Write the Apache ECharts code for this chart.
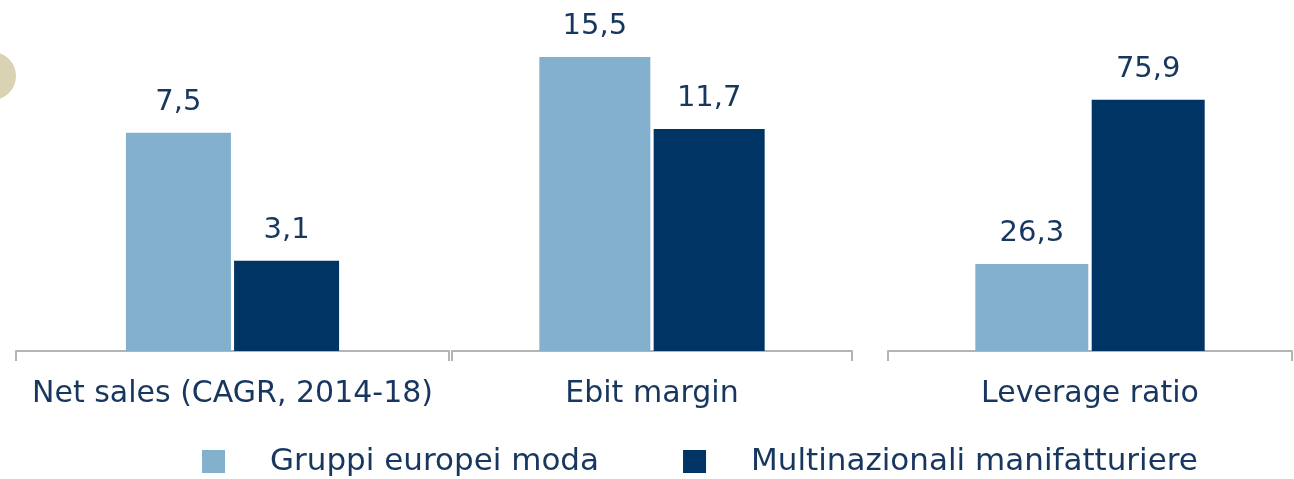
<!DOCTYPE html>
<html>
<head>
<meta charset="utf-8">
<script src="https://cdn.jsdelivr.net/npm/echarts@6/dist/echarts.min.js"></script>
<style>
html, body { margin: 0; padding: 0; background: #fff; }
#chart { width: 1294px; height: 479px; }
</style>
</head>
<body>
<div id="chart"></div>
<script>
var categories = ["Net sales (CAGR, 2014-18)", "Ebit margin", "Leverage ratio"];
var seriesNames = ["Gruppi europei moda", "Multinazionali manifatturiere"];
var europeiModa = [7.5, 15.5, 26.3];
var multinazionali = [3.1, 11.7, 75.9];

var lightColor = "#82b0cd";
var darkColor = "#003464";
var textColor = "#17375e";
var fontName = "'DejaVu Sans', sans-serif";

// one small chart per category, each with its own scale
var grids = [
	{ left: 16, width: 433, top: 0, bottom: 128 },
	{ left: 452, width: 400, top: 0, bottom: 128 },
	{ left: 888, width: 404, top: 0, bottom: 128 }
];
var yMax = [12.06, 18.5, 106];
var barWidths = [105, 111, 113];

function fmt(p) {
	return String(p.value).replace(".", ",");
}

var xAxes = [], yAxes = [], series = [];
for (var i = 0; i < categories.length; i++) {
	xAxes.push({
		type: "category",
		gridIndex: i,
		data: [categories[i]],
		boundaryGap: true,
		axisLine: { show: true, lineStyle: { color: "#b4b4b4", width: 2 } },
		axisTick: { show: true, interval: 0, alignWithLabel: false, length: 10,
			lineStyle: { color: "#b4b4b4", width: 2 } },
		axisLabel: { color: textColor, fontSize: 30, fontFamily: fontName, margin: 28 }
	});
	yAxes.push({
		type: "value",
		gridIndex: i,
		min: 0,
		max: yMax[i],
		show: false,
		splitLine: { show: false }
	});
	series.push({
		name: seriesNames[0],
		type: "bar",
		xAxisIndex: i,
		yAxisIndex: i,
		data: [europeiModa[i]],
		barWidth: barWidths[i],
		barGap: "3%",
		itemStyle: { color: lightColor },
		label: { show: true, position: "top", distance: 16, formatter: fmt,
			color: textColor, fontSize: 29, fontFamily: fontName }
	});
	series.push({
		name: seriesNames[1],
		type: "bar",
		xAxisIndex: i,
		yAxisIndex: i,
		data: [multinazionali[i]],
		barWidth: barWidths[i],
		barGap: "3%",
		itemStyle: { color: darkColor },
		label: { show: true, position: "top", distance: 16, formatter: fmt,
			color: textColor, fontSize: 29, fontFamily: fontName }
	});
}

var chart = echarts.init(document.getElementById("chart"));
chart.setOption({
	animation: false,
	grid: grids,
	xAxis: xAxes,
	yAxis: yAxes,
	legend: {
		data: seriesNames,
		left: 202,
		top: 446,
		padding: 0,
		icon: "rect",
		itemWidth: 23,
		itemHeight: 23,
		itemGap: 84,
		textStyle: { color: textColor, fontSize: 31, fontFamily: fontName, padding: [0, 0, 0, 40] }
	},
	graphic: [{
		type: "circle",
		shape: { cx: -8, cy: 76, r: 24 },
		style: { fill: "#d9d2b3" }
	}],
	series: series
});
</script>
</body>
</html>
